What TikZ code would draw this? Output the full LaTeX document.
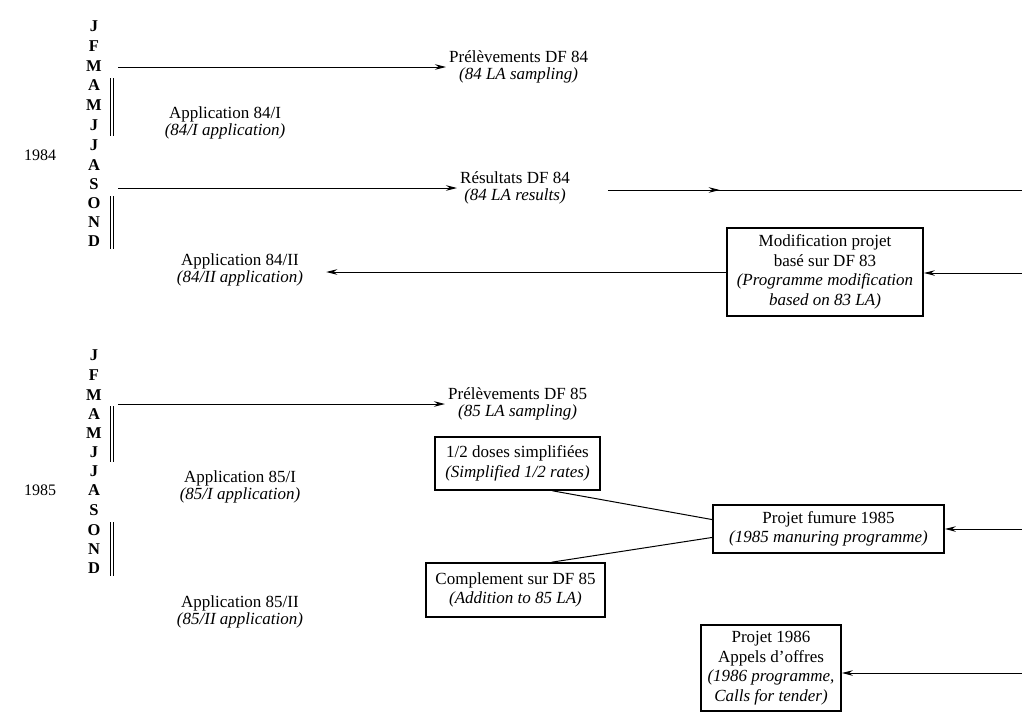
\documentclass[tikz,border=0pt]{standalone}
\usepackage{fontspec}
\setmainfont{Liberation Serif}
\usetikzlibrary{arrows.meta,calc,decorations.markings}
\begin{document}
\begin{tikzpicture}[x=1pt,y=-1pt,
  month/.style={font=\fontsize{16.5}{17}\selectfont\bfseries, inner sep=0pt},
  yearlbl/.style={font=\fontsize{16}{16}\selectfont, inner sep=0pt},
  lbl/.style={font=\fontsize{17}{16.5}\selectfont, align=center, inner sep=3pt},
  boxlbl/.style={draw, line width=1.6pt, font=\fontsize{17}{19.5}\selectfont, align=center, inner sep=2pt},
  arr/.style={line width=1pt, -{Stealth[length=11pt,width=5.5pt]}},
  plain/.style={line width=1pt},
  dbl/.style={line width=1pt},
]
\useasboundingbox (0,0) rectangle (1022,712);

% 1984 months
\foreach \m/\y [count=\i] in {J/26,F/46,M/66,A/85,M/105,J/125,J/145,A/165,S/184,O/203,N/222,D/241}
  \node[month] (a\i) at (94,\y) {\m};
\node[yearlbl] (y84) at (40,155) {1984};
% 1985 months
\foreach \m/\y [count=\i] in {J/355,F/375,M/395,A/414,M/433,J/452,J/471,A/490,S/510,O/530,N/549,D/568}
  \node[month] (b\i) at (94,\y) {\m};
\node[yearlbl] (y85) at (40,490) {1985};

% double bars
\coordinate (d1t) at (110,78); \coordinate (d1b) at (110,136);
\draw[dbl] (d1t) -- (d1b) ([xshift=3pt]d1t) -- ([xshift=3pt]d1b);
\coordinate (d2t) at (110,196); \coordinate (d2b) at (110,249);
\draw[dbl] (d2t) -- (d2b) ([xshift=3pt]d2t) -- ([xshift=3pt]d2b);
\coordinate (d3t) at (110,406); \coordinate (d3b) at (110,462);
\draw[dbl] (d3t) -- (d3b) ([xshift=3pt]d3t) -- ([xshift=3pt]d3b);
\coordinate (d4t) at (110,522); \coordinate (d4b) at (110,576);
\draw[dbl] (d4t) -- (d4b) ([xshift=3pt]d4t) -- ([xshift=3pt]d4b);

% labels 1984
\node[lbl, anchor=west] (pre84) at (446,67) {Prélèvements DF 84\\\textit{(84 LA sampling)}};
\node[lbl] (app84a) at (225,123) {Application 84/I\\\textit{(84/I application)}};
\node[lbl, anchor=west] (res84) at (457,188) {Résultats DF 84\\\textit{(84 LA results)}};
\node[lbl] (app84b) at (240,270) {Application 84/II\\\textit{(84/II application)}};
\node[boxlbl, minimum width=196pt, minimum height=88pt] (mod) at (825,272)
  {Modification projet\\basé sur DF 83\\\textit{(Programme modification}\\\textit{based on 83 LA)}};

% labels 1985
\node[lbl, anchor=west] (pre85) at (445,404) {Prélèvements DF 85\\\textit{(85 LA sampling)}};
\node[lbl] (app85a) at (240,487) {Application 85/I\\\textit{(85/I application)}};
\node[lbl] (app85b) at (240,612) {Application 85/II\\\textit{(85/II application)}};
\node[boxlbl, minimum width=165pt, minimum height=53pt] (half) at (517.5,463.5)
  {1/2 doses simplifiées\\\textit{(Simplified 1/2 rates)}};
\node[boxlbl, minimum width=179pt, minimum height=54pt] (compl) at (515.5,590)
  {Complement sur DF 85\\\textit{(Addition to 85 LA)}};
\node[boxlbl, minimum width=231pt, minimum height=48pt] (fum) at (828.5,529)
  {Projet fumure 1985\\\textit{(1985 manuring programme)}};
\node[boxlbl, minimum width=140pt, minimum height=86pt] (p86) at (771,668)
  {Projet 1986\\Appels d'offres\\\textit{(1986 programme,}\\\textit{Calls for tender)}};

% right-edge entry points
\coordinate (e1) at (1022,190);
\coordinate (e2) at (1022,273);
\coordinate (e3) at (1022,529);
\coordinate (e4) at (1022,673);
% left start points (by month rows)
\coordinate (s1) at (118,67);
\coordinate (s2) at (118,188);
\coordinate (s3) at (118,404);

% connectors
\draw[arr] (s1) -- (pre84.west);
\draw[arr] (s2) -- (res84.west);
\draw[plain, postaction={decorate}, decoration={markings, mark=at position 0.27 with {\arrow{Stealth[length=11pt,width=5.5pt]}}}]
  ([xshift=35pt]res84.east |- e1) -- (e1);
\draw[arr, shorten >=20pt] (mod.west) -- (mod.west -| app84b.east);
\draw[arr] (e2) -- (mod.east |- e2);
\draw[arr] (s3) -- (pre85.west);
\draw[plain] ($(half.south west)!0.71!(half.south east)$) -- ($(fum.north west)!0.31!(fum.south west)$);
\draw[plain] ($(compl.north west)!0.70!(compl.north east)$) -- ($(fum.north west)!0.67!(fum.south west)$);
\draw[arr] (e3) -- (fum.east);
\draw[arr] (e4) -- (p86.east |- e4);
\end{tikzpicture}
\end{document}
